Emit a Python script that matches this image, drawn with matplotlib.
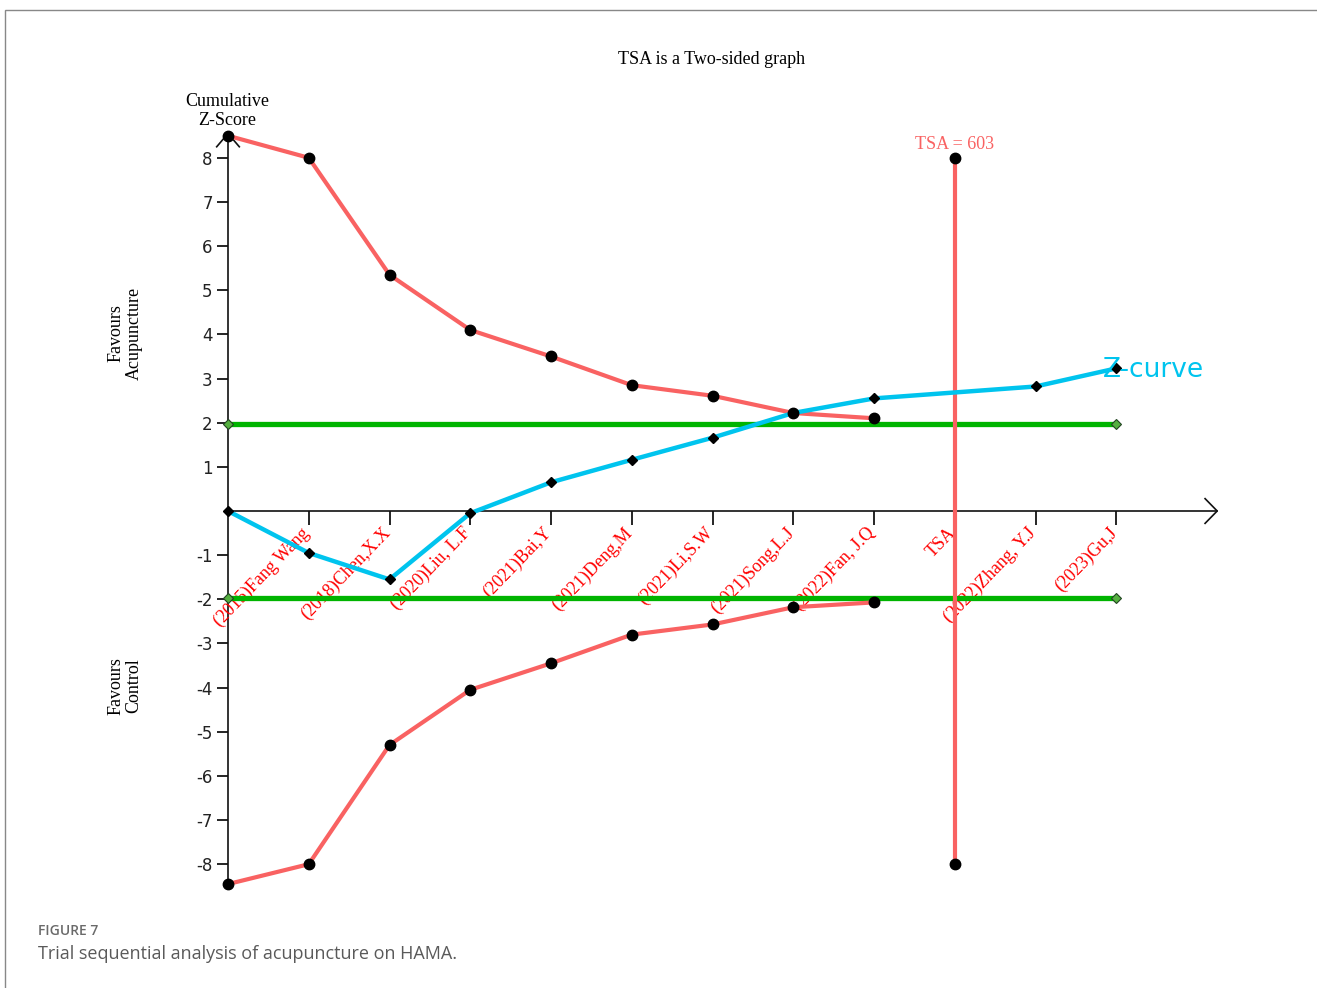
import matplotlib
matplotlib.use("Agg")
import matplotlib.pyplot as plt
from matplotlib.patches import Rectangle

# ---------------- data ----------------
positions = [0, 1, 2, 3, 4, 5, 6, 7, 8, 9, 10, 11]
tick_labels = ["(2015)Fang Wang", "(2018)Chen,X.X", "(2020)Liu, L.F", "(2021)Bai,Y",
               "(2021)Deng,M", "(2021)Li,S.W", "(2021)Song,L.J", "(2022)Fan, J.Q",
               "TSA", "(2022)Zhang, Y.J", "(2023)Gu,J"]
tick_pos = [1, 2, 3, 4, 5, 6, 7, 8, 9, 10, 11]

z_x = [0, 1, 2, 3, 4, 5, 6, 7, 8, 10, 11]
z_y = [0.0, -0.95, -1.55, -0.05, 0.65, 1.16, 1.66, 2.22, 2.55, 2.82, 3.23]

bound_x = [0, 1, 2, 3, 4, 5, 6, 7, 8]
upper_y = [8.5, 8.0, 5.35, 4.1, 3.5, 2.85, 2.61, 2.22, 2.1]
lower_y = [-8.45, -8.0, -5.3, -4.05, -3.45, -2.8, -2.57, -2.18, -2.07]

conv_x = [0, 11]
conv_y = 1.96

tsa_x = 9
tsa_range = [-8, 8]
tsa_label = "TSA = 603"

yticks = [-8, -7, -6, -5, -4, -3, -2, -1, 1, 2, 3, 4, 5, 6, 7, 8]

# ---------------- style ----------------
RED = "#F96262"
BLUE = "#00C4EE"
GREEN = "#00B400"
SERIF = "Liberation Serif"

W, H = 1317, 988
fig = plt.figure(figsize=(W / 100, H / 100), dpi=100)

# axes placement (pixel-derived)
x0_px, xs = 228, 80.75
y0_px, ys = 511, 44.15
xlim = (-0.5, 12.5)
ylim = (-9.0, 9.5)
left = (x0_px + xlim[0] * xs) / W
right = (x0_px + xlim[1] * xs) / W
top = 1 - (y0_px - ylim[1] * ys) / H
bottom = 1 - (y0_px - ylim[0] * ys) / H
ax = fig.add_axes([left, bottom, right - left, top - bottom])
ax.set_xlim(*xlim)
ax.set_ylim(*ylim)

for s in ["top", "right"]:
    ax.spines[s].set_visible(False)
ax.spines["left"].set_position(("data", 0))
ax.spines["bottom"].set_position(("data", 0))
ax.spines["left"].set_bounds(-8.5, 8.55)
ax.spines["bottom"].set_bounds(0, 12.25)
for s in ["left", "bottom"]:
    ax.spines[s].set_linewidth(1.2)
    ax.spines[s].set_color("#111111")

ax.set_yticks(yticks)
ax.set_yticklabels([f"{v}" for v in yticks], fontsize=12, family="DejaVu Sans", color="#222222")
ax.tick_params(axis="y", direction="out", length=8, width=1.2, pad=3)
ax.set_xticks(tick_pos)
ax.set_xticklabels([])
ax.tick_params(axis="x", direction="out", length=10, width=1.2)

# arrow heads
ax.plot([-0.14, 0, 0.14], [8.25, 8.55, 8.25], color="#111111", lw=1.2, clip_on=False)
ax.plot([12.1, 12.25, 12.1], [0.28, 0, -0.28], color="#111111", lw=1.2, clip_on=False)

# x tick labels, rotated
for p, lab in zip(tick_pos, tick_labels):
    ax.text(p - 0.1, -0.3, lab, rotation=46, rotation_mode="anchor",
            ha="right", va="top", fontsize=13, family=SERIF, color="red")

# conventional boundaries
for yy in (conv_y, -conv_y):
    ax.plot(conv_x, [yy, yy], color=GREEN, lw=3.8, zorder=3)
    ax.plot(conv_x, [yy, yy], ls="none", marker="D", ms=5, mfc="#55B040",
            mec="#224422", mew=0.8, zorder=4)

# TSA boundaries
ax.plot(bound_x, upper_y, color=RED, lw=3, zorder=4)
ax.plot(bound_x, lower_y, color=RED, lw=3, zorder=4)
ax.plot(bound_x, upper_y, ls="none", marker="o", ms=7.5, color="black", zorder=6)
ax.plot(bound_x, lower_y, ls="none", marker="o", ms=7.5, color="black", zorder=6)

# TSA required information size line
ax.plot([tsa_x, tsa_x], tsa_range, color=RED, lw=3, zorder=5)
ax.plot([tsa_x, tsa_x], tsa_range, ls="none", marker="o", ms=7.5, color="black", zorder=6)
ax.text(tsa_x, tsa_range[1] + 0.12, tsa_label, ha="center", va="bottom",
        fontsize=13, family=SERIF, color=RED)

# Z-curve
ax.plot(z_x, z_y, color=BLUE, lw=3.2, zorder=5)
ax.plot(z_x, z_y, ls="none", marker="D", ms=5, color="black", zorder=6)
ax.text(10.83, 3.2, "Z-curve", ha="left", va="center", fontsize=19,
        family="DejaVu Sans", color=BLUE, zorder=7)

# axis texts
fig.text(712 / W, 1 - 60 / H, "TSA is a Two-sided graph", ha="center", va="center",
         fontsize=13, family=SERIF)
fig.text(227 / W, 1 - 111 / H, "Cumulative\nZ-Score", ha="center", va="center",
         fontsize=13, family=SERIF, linespacing=1.1)
fig.text(125 / W, 1 - 333 / H, "Favours\nAcupuncture", ha="center", va="center",
         rotation=90, fontsize=13, family=SERIF, linespacing=1.1)
fig.text(125 / W, 1 - 686 / H, "Favours\nControl", ha="center", va="center",
         rotation=90, fontsize=13, family=SERIF, linespacing=1.1)

# caption
fig.text(38 / W, 1 - 931 / H, "FIGURE 7", ha="left", va="center", fontsize=10,
         family="Open Sans", fontweight="semibold", color="#6a6a6a")
fig.text(38 / W, 1 - 954 / H, "Trial sequential analysis of acupuncture on HAMA.",
         ha="left", va="center", fontsize=13, family="Open Sans", color="#5a5a5a")

# frame
fig.patches.append(Rectangle((5 / W, -0.1), 1.2, 1 - 10 / H + 0.1, transform=fig.transFigure,
                             fill=False, edgecolor="#888888", lw=1.0))

fig.savefig("out.png", dpi=100)
